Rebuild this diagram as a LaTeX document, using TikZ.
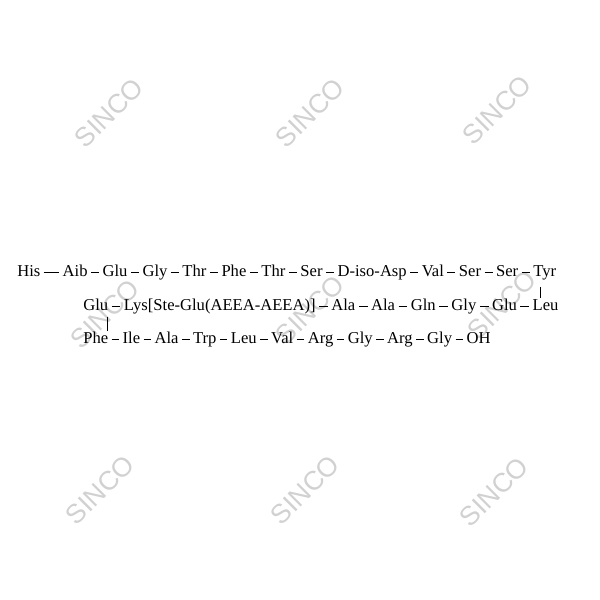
\documentclass[tikz,border=0pt]{standalone}
\usepackage{fontspec}
\setmainfont{Liberation Serif}
\newfontfamily\wmfont{Liberation Sans}
\usetikzlibrary{positioning}
\tikzset{
	res/.style={inner sep=0pt, text height=1.45ex, text depth=0.45ex,
		font=\fontsize{11.8}{14}\selectfont},
	bond/.style={line width=0.5pt, shorten <=2.3pt, shorten >=2.3pt},
	wm/.style={text=black!18, rotate=45, inner sep=0pt,
		font=\wmfont\fontsize{19}{22}\selectfont}
}

\begin{document}
\begin{tikzpicture}[x=0.025cm, y=-0.025cm]
		\useasboundingbox (0,0) rectangle (600,600);
		% watermarks
		\foreach \x/\y [count=\k] in {109/113, 310/113, 497/110,
			105/314, 310/310, 502/305,
			100/490, 305/490, 494/492}
		{
			\node[wm] (wm\k) at (\x,\y) {SINCO};
		}
		
		% first row
		\node[res, anchor=base west] (r1-0) at (17,276) {His};
		\node[res, base right=15.5pt of r1-0] (r1-1) {Aib};
		\draw[line width=0.5pt, shorten <=2.2pt, shorten >=2.2pt] (r1-0) -- (r1-1);
		\foreach \res [count=\i from 2, remember=\i as \j (initially 1)] in
			{Glu,Gly,Thr,Phe,Thr,Ser,D-iso-Asp,Val,Ser,Ser,Tyr}
		{
			\node[res, base right=10.3pt of r1-\j] (r1-\i) {\res};
			\draw[bond] (r1-\j) -- (r1-\i);
		}
		
		% second row
		\node[res, anchor=base west] (r2-1) at (83,310) {Glu};
		\foreach \res [count=\i from 2, remember=\i as \j (initially 1)] in
			{Lys[Ste-Glu(AEEA-AEEA)],Ala,Ala,Gln,Gly,Glu,Leu}
		{
			\node[res, base right=10.8pt of r2-\j] (r2-\i) {\res};
			\draw[bond] (r2-\j) -- (r2-\i);
		}
		
		% third row
		\node[res, anchor=base west] (r3-1) at (83,343) {Phe};
		\foreach \res [count=\i from 2, remember=\i as \j (initially 1)] in
			{Ile,Ala,Trp,Leu,Val,Arg,Gly,Arg,Gly,OH}
		{
			\node[res, base right=9.9pt of r3-\j] (r3-\i) {\res};
			\draw[bond] (r3-\j) -- (r3-\i);
		}
		
		% turns of the chain
		\draw[line width=0.5pt, shorten <=5.5pt, shorten >=2pt]
			([xshift=5.4pt]r1-12.south west) -- ([xshift=5.4pt]r1-12.south west |- r2-8.north);
		\draw[line width=0.5pt, shorten <=2.5pt, shorten >=1.5pt]
			([xshift=-0.5pt]r2-1.south east) -- ([xshift=-0.5pt]r2-1.south east |- r3-1.north);
	\end{tikzpicture}
\end{document}
